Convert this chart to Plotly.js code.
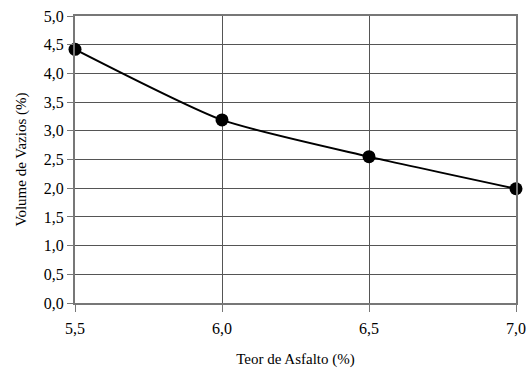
<!DOCTYPE html>
<html>
<head>
<meta charset="utf-8">
<script src="https://cdn.plot.ly/plotly-3.0.1.min.js"></script>
<style>html,body{margin:0;padding:0;background:#fff;}#chart{width:529px;height:368px;}</style>
</head>
<body>
<div id="chart"></div>
<script>
const teorAsfalto = [5.5, 6.0, 6.5, 7.0];
const volumeVazios = [4.42, 3.19, 2.55, 1.99];
const xTitle = 'Teor de Asfalto (%)';
const yTitle = 'Volume de Vazios (%)';

const trace = {
  x: teorAsfalto,
  y: volumeVazios,
  type: 'scatter',
  mode: 'lines+markers',
  line: {color: '#000', width: 2, shape: 'spline', smoothing: 0.6},
  marker: {color: '#000', size: 13},
  cliponaxis: false,
  showlegend: false
};

const layout = {
  width: 529, height: 368,
  margin: {l: 75, r: 13, t: 16, b: 65},
  paper_bgcolor: '#fff', plot_bgcolor: '#fff',
  separators: ',.',
  font: {family: 'Times New Roman, Liberation Serif, serif', size: 16, color: '#000'},
  xaxis: {
    range: [5.5, 7.0], dtick: 0.5, tick0: 5.5, tickformat: '.1f',
    showgrid: true, gridcolor: '#555', gridwidth: 1,
    showline: true, linecolor: '#777', linewidth: 2, mirror: true,
    ticks: 'outside', ticklen: 7, tickcolor: '#777', tickwidth: 1,
    zeroline: false, tickfont: {size: 16}, ticklabelstandoff: 3,
    title: {text: xTitle, font: {size: 15}, standoff: 18}
  },
  yaxis: {
    range: [0, 5.0], dtick: 0.5, tick0: 0, tickformat: '.1f',
    showgrid: true, gridcolor: '#555', gridwidth: 1,
    showline: true, linecolor: '#777', linewidth: 2, mirror: true,
    ticks: 'outside', ticklen: 6, tickcolor: '#777', tickwidth: 1,
    zeroline: false, tickfont: {size: 16},
    title: {text: yTitle, font: {size: 15}, standoff: 14}
  }
};

Plotly.newPlot('chart', [trace], layout, {displayModeBar: false, staticPlot: true});
</script>
</body>
</html>
